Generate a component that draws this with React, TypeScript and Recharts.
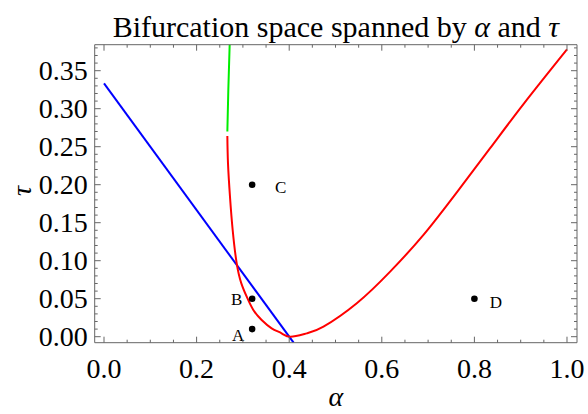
import React from 'react';
import { ComposedChart, Line, Scatter, XAxis, YAxis } from 'recharts';

// ---- data ----
const alphaDomain: [number, number] = [-0.0201, 1.0216];
const tauDomain: [number, number] = [-0.0079, 0.3842];

const xMajorTicks = [0, 0.2, 0.4, 0.6, 0.8, 1.0];
const xMinorTicks = [0.05, 0.1, 0.15, 0.25, 0.3, 0.35, 0.45, 0.5, 0.55, 0.65, 0.7, 0.75, 0.85, 0.9, 0.95];
const yMajorTicks = [0, 0.05, 0.1, 0.15, 0.2, 0.25, 0.3, 0.35];
const yMinorTicks = [
  0.01, 0.02, 0.03, 0.04, 0.06, 0.07, 0.08, 0.09, 0.11, 0.12, 0.13, 0.14, 0.16, 0.17, 0.18, 0.19,
  0.21, 0.22, 0.23, 0.24, 0.26, 0.27, 0.28, 0.29, 0.31, 0.32, 0.33, 0.34, 0.36, 0.37, 0.38,
];

const redAlpha = [0.2664, 0.2678, 0.2721, 0.2779, 0.2866, 0.2966, 0.3082, 0.3225, 0.3405, 0.3621, 0.3837, 0.4031, 0.438, 0.474, 0.546, 0.618, 0.69, 0.762, 0.834, 0.906, 1.0];
const redTau = [0.2641, 0.2281, 0.1842, 0.1404, 0.0965, 0.0702, 0.0526, 0.0351, 0.0219, 0.011, 0.0044, 0.0, 0.0044, 0.0132, 0.044, 0.0856, 0.134, 0.19, 0.248, 0.306, 0.378];

const greenAlpha = [0.2664, 0.2685, 0.2715];
const greenTau = [0.27, 0.325, 0.386];

const blueAlpha = [0.0, 0.4095];
const blueTau = [0.3333, -0.0079];

const pointNames = ['A', 'B', 'C', 'D'];
const pointAlpha = [0.32, 0.32, 0.32, 0.8];
const pointTau = [0.01, 0.05, 0.2, 0.05];

const titleParts = ['Bifurcation space spanned by ', 'α', ' and ', 'τ'];
const xLabel = 'α';
const yLabel = 'τ';

// ---- built tables ----
const zip = (a: number[], t: number[]) => a.map((v, i) => ({ a: v, t: t[i] }));
const redData = zip(redAlpha, redTau);
const greenData = zip(greenAlpha, greenTau);
const blueData = zip(blueAlpha, blueTau);
const pointData = pointNames.map((n, i) => ({ name: n, a: pointAlpha[i], t: pointTau[i] }));

const allXTicks = [...xMajorTicks, ...xMinorTicks].sort((p, q) => p - q);
const allYTicks = [...yMajorTicks, ...yMinorTicks].sort((p, q) => p - q);

// ---- style ----
const FONT = '"Liberation Serif", "Times New Roman", Times, serif';
const FRAME = '#666666';
const TICK_FS = 28;
const isMajor = (v: number, list: number[]) => list.some((m) => Math.abs(m - v) < 1e-9);

const labelOffsets: Record<string, [number, number]> = {
  A: [-14, 6],
  B: [-15.5, 0],
  C: [28.5, 2.5],
  D: [21.5, 3],
};

const BottomTick = (props: any) => {
  const { x, y, payload } = props;
  const major = isMajor(payload.value, xMajorTicks);
  return (
    <g>
      <line x1={x} x2={x} y1={y} y2={y - (major ? 6 : 3)} stroke={FRAME} strokeWidth={1} />
      {major && (
        <text x={x} y={y + 35} textAnchor="middle" fontFamily={FONT} fontSize={TICK_FS} fill="#000">
          {payload.value.toFixed(1)}
        </text>
      )}
    </g>
  );
};

const TopTick = (props: any) => {
  const { x, y, payload } = props;
  const major = isMajor(payload.value, xMajorTicks);
  return <line x1={x} x2={x} y1={y} y2={y + (major ? 6 : 3)} stroke={FRAME} strokeWidth={1} />;
};

const LeftTick = (props: any) => {
  const { x, y, payload } = props;
  const major = isMajor(payload.value, yMajorTicks);
  return (
    <g>
      <line x1={x} x2={x + (major ? 6 : 3)} y1={y} y2={y} stroke={FRAME} strokeWidth={1} />
      {major && (
        <text x={x - 7} y={y + 9.5} textAnchor="end" fontFamily={FONT} fontSize={TICK_FS} fill="#000">
          {payload.value.toFixed(2)}
        </text>
      )}
    </g>
  );
};

const RightTick = (props: any) => {
  const { x, y, payload } = props;
  const major = isMajor(payload.value, yMajorTicks);
  return <line x1={x} x2={x - (major ? 6 : 3)} y1={y} y2={y} stroke={FRAME} strokeWidth={1} />;
};

const PointShape = (props: any) => {
  const { cx, cy, payload } = props;
  const off = labelOffsets[payload.name] || [0, 0];
  return (
    <g>
      <circle cx={cx} cy={cy} r={3.3} fill="#000" />
      <text
        x={cx + off[0]}
        y={cy + off[1] + 6}
        textAnchor="middle"
        fontFamily={FONT}
        fontSize={17}
        fill="#000"
      >
        {payload.name}
      </text>
    </g>
  );
};

export default function App() {
  return (
    <div style={{ position: 'absolute', left: 0, top: 0, width: 588, height: 414, background: '#fff' }}>
      <ComposedChart width={588} height={414} margin={{ top: 43.7, right: 10, bottom: 0, left: 0 }}>
        <XAxis
          xAxisId="b"
          dataKey="a"
          type="number"
          orientation="bottom"
          domain={alphaDomain}
          allowDataOverflow
          ticks={allXTicks}
          interval={0}
          tick={<BottomTick />}
          tickLine={false}
          tickSize={0}
          tickMargin={0}
          axisLine={{ stroke: FRAME, strokeWidth: 1 }}
          height={71.3}
          label={{
            content: (p: any) => {
              const vb = p.viewBox || { x: 94.7, y: 342.7, width: 482.3 };
              return (
                <text
                  x={vb.x + vb.width / 2}
                  y={vb.y + 63}
                  textAnchor="middle"
                  fontFamily={FONT}
                  fontStyle="italic"
                  fontSize={28}
                  fill="#000"
                >
                  {xLabel}
                </text>
              );
            },
          }}
        />
        <XAxis
          xAxisId="t"
          dataKey="a"
          type="number"
          orientation="top"
          domain={alphaDomain}
          allowDataOverflow
          ticks={allXTicks}
          interval={0}
          tick={<TopTick />}
          tickLine={false}
          tickSize={0}
          tickMargin={0}
          axisLine={{ stroke: FRAME, strokeWidth: 1 }}
          height={1}
          label={{
            content: (p: any) => {
              const vb = p.viewBox || { x: 94.7, y: 44.7, width: 482.3 };
              return (
                <text
                  x={vb.x + vb.width / 2}
                  y={37}
                  textAnchor="middle"
                  fontFamily={FONT}
                  fontSize={30}
                  fill="#000"
                >
                  <tspan>{titleParts[0]}</tspan>
                  <tspan fontStyle="italic">{titleParts[1]}</tspan>
                  <tspan>{titleParts[2]}</tspan>
                  <tspan fontStyle="italic">{titleParts[3]}</tspan>
                </text>
              );
            },
          }}
        />
        <YAxis
          yAxisId="l"
          dataKey="t"
          type="number"
          orientation="left"
          domain={tauDomain}
          allowDataOverflow
          ticks={allYTicks}
          interval={0}
          tick={<LeftTick />}
          tickLine={false}
          tickSize={0}
          tickMargin={0}
          axisLine={{ stroke: FRAME, strokeWidth: 1 }}
          width={94.7}
          label={{
            content: () => (
              <text
                x={21}
                y={191}
                textAnchor="middle"
                dominantBaseline="central"
                fontFamily={FONT}
                fontStyle="italic"
                fontSize={28}
                fill="#000"
                transform="rotate(-90 21 191)"
              >
                {yLabel}
              </text>
            ),
          }}
        />
        <YAxis
          yAxisId="r"
          dataKey="t"
          type="number"
          orientation="right"
          domain={tauDomain}
          allowDataOverflow
          ticks={allYTicks}
          interval={0}
          tick={<RightTick />}
          tickLine={false}
          tickSize={0}
          tickMargin={0}
          axisLine={{ stroke: FRAME, strokeWidth: 1 }}
          width={1}
        />
        <Line
          xAxisId="b"
          yAxisId="l"
          data={blueData}
          dataKey="t"
          type="linear"
          stroke="#0000ff"
          strokeWidth={2}
          dot={false}
          activeDot={false}
          isAnimationActive={false}
        />
        <Line
          xAxisId="b"
          yAxisId="l"
          data={redData}
          dataKey="t"
          type="natural"
          stroke="#ff0000"
          strokeWidth={2}
          dot={false}
          activeDot={false}
          isAnimationActive={false}
        />
        <Line
          xAxisId="b"
          yAxisId="l"
          data={greenData}
          dataKey="t"
          type="natural"
          stroke="#00ee00"
          strokeWidth={2}
          dot={false}
          activeDot={false}
          isAnimationActive={false}
        />
        <Scatter
          xAxisId="b"
          yAxisId="l"
          data={pointData}
          dataKey="t"
          shape={<PointShape />}
          isAnimationActive={false}
        />
      </ComposedChart>
    </div>
  );
}
